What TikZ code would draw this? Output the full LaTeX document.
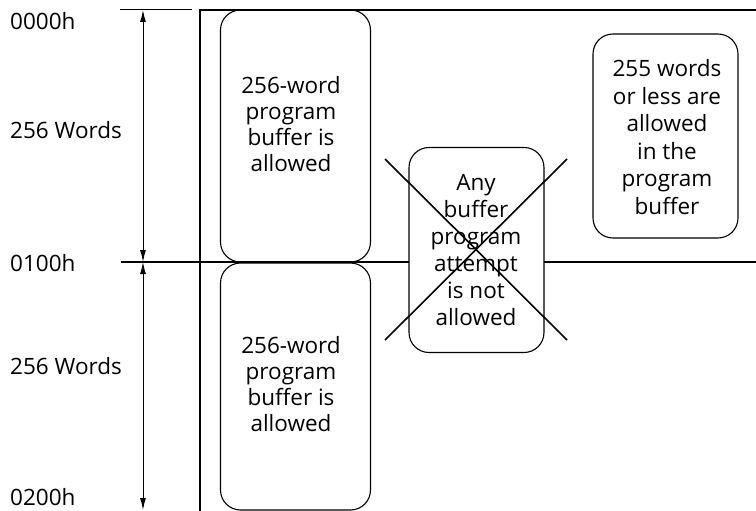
\documentclass[tikz,border=0pt]{standalone}
\usepackage{fontspec}
\setmainfont{Open Sans}
\usetikzlibrary{arrows.meta}
\usetikzlibrary{positioning}

\tikzset{
	bufbox/.style={draw, line width=1.1pt, rounded corners=20pt, inner sep=0pt},
	buftext/.style={align=center, inner sep=0pt, font=\fontsize{22.5}{26}\selectfont},
	addr/.style={anchor=west, inner sep=0pt, font=\fontsize{22.5}{25}\selectfont},
}

\begin{document}
\begin{tikzpicture}[>={Latex[length=12pt,width=6pt]}, x=1pt, y=-1pt]
\useasboundingbox (0,0) rectangle (756,511);

% frame and the 0100h line
\draw[line width=2.4pt] (200,511) -- (200,10) -- (756,10);
\draw[line width=1pt] (120,10) -- (192,10);
\draw[line width=2.2pt] (121,262) -- (756,262);

% left buffers
\node[bufbox, minimum width=150pt, minimum height=252pt] (buftop) at (295.5,136) {};
\node[bufbox, minimum width=150pt, minimum height=247pt] (bufbot) at (295.5,386.5) {};
\node[buftext] (buftoptxt) at (291,124) {256-word\\program\\buffer is\\allowed};
\node[buftext] (bufbottxt) at (291,384) {256-word\\program\\buffer is\\allowed};

% buffer crossing 0100h
\node[bufbox, fill=white, minimum width=135pt, minimum height=205pt] (anybox) at (476.5,250) {};
\node[buftext, font=\fontsize{22.5}{27}\selectfont] (anytxt) at (476,250) {Any\\buffer\\program\\attempt\\is not\\allowed};
\coordinate (xa) at (385,159);
\coordinate (xb) at (567,340);
\coordinate (xc) at (385,340);
\coordinate (xd) at (567,159);
\draw[line width=1.6pt] (xa) -- (xb);
\draw[line width=1.6pt] (xc) -- (xd);

% short buffer
\node[bufbox, minimum width=145pt, minimum height=204pt] (lessbox) at (665.5,136) {};
\node[buftext, font=\fontsize{22.5}{27.5}\selectfont] (lesstxt) at (667,137) {255 words\\or less are\\allowed\\in the\\program\\buffer};

% addresses
\node[addr] (a0000) at (10,21) {0000h};
\node[addr] (words1) at (10,130) {256 Words};
\node[addr] (a0100) at (10,263) {0100h};
\node[addr] (words2) at (10,366) {256 Words};
\node[addr] (a0200) at (10,497) {0200h};

\coordinate (d0) at (143,10);
\coordinate (d1) at (143,262);
\coordinate (d2) at (143,510);
\draw[<->, line width=1pt] (d0) -- (d1);
\draw[<->, line width=1pt] (d1) -- (d2);

\end{tikzpicture}
\end{document}
